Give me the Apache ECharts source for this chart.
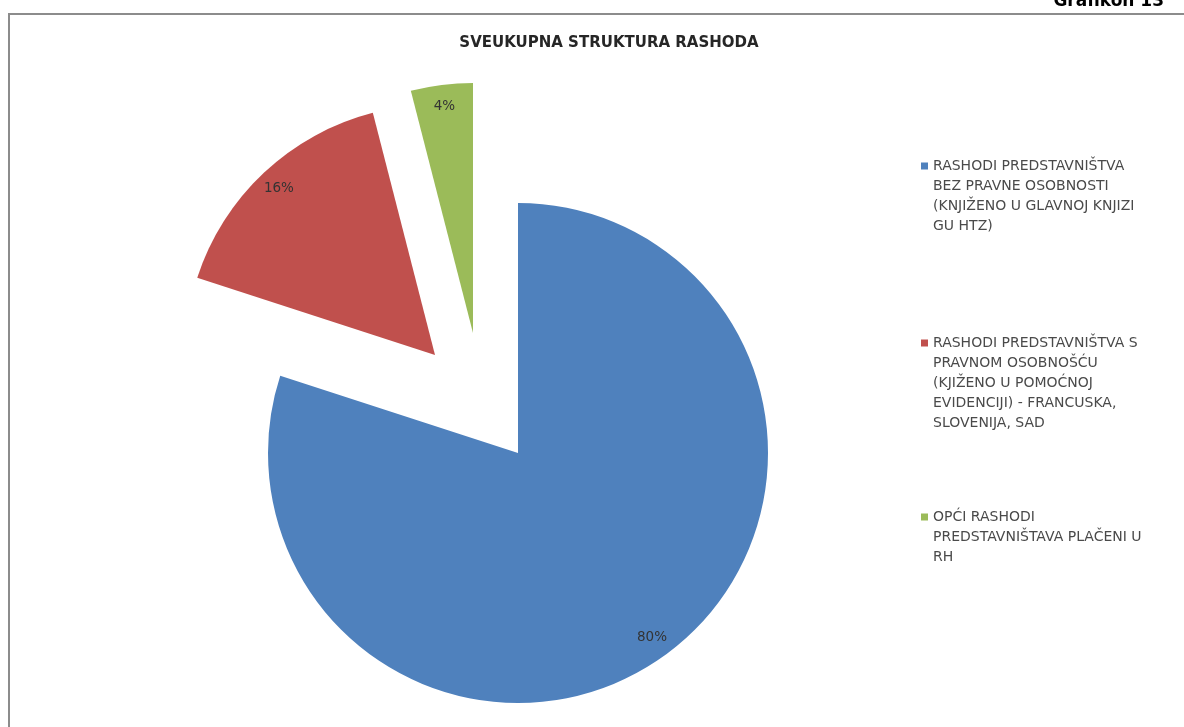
<!DOCTYPE html>
<html>
<head>
<meta charset="utf-8">
<script src="https://cdn.jsdelivr.net/npm/echarts@6/dist/echarts.min.js"></script>
<style>
  html, body { margin: 0; padding: 0; background: #ffffff; }
  #chart { width: 1184px; height: 727px; }
</style>
</head>
<body>
<div id="chart"></div>
<script>
// Expense categories, each kept as the lines shown in the legend
const categoryLines = [
  ['RASHODI PREDSTAVNIŠTVA', 'BEZ PRAVNE OSOBNOSTI', '(KNJIŽENO U GLAVNOJ KNJIZI', 'GU HTZ)'],
  ['RASHODI PREDSTAVNIŠTVA S', 'PRAVNOM OSOBNOŠĆU', '(KJIŽENO U POMOĆNOJ', 'EVIDENCIJI) - FRANCUSKA,', 'SLOVENIJA, SAD'],
  ['OPĆI RASHODI', 'PREDSTAVNIŠTAVA PLAČENI U', 'RH']
];
// Share of total expenses, percent
const shares = [80, 16, 4];

const chartTitle = 'SVEUKUPNA STRUKTURA RASHODA';
const figureLabel = 'Grafikon 13';

const categories = categoryLines.map(l => l.join(' '));
const colors = ['#4f81bd', '#c0504d', '#9bbb59'];

// Layout: each slice is pulled out of the pie on its own centre
const R = 250;
const sliceCenters = [[518, 453], [435, 355], [473, 333]];
const legendIconY = [166, 343, 517];
const LINE_H = 20;
const FONT = '"DejaVu Sans", "Noto Sans", sans-serif';

const series = [];
categories.forEach((name, i) => {
  // the slice itself
  series.push({
    type: 'pie',
    center: sliceCenters[i],
    radius: [0, R],
    startAngle: 90,
    clockwise: true,
    silent: true,
    avoidLabelOverlap: false,
    label: { show: false },
    labelLine: { show: false },
    data: categories.map((n, j) => ({
      name: n,
      value: shares[j],
      itemStyle: { color: j === i ? colors[j] : 'rgba(0,0,0,0)' }
    }))
  });
  // value label sitting at 90% of the radius
  series.push({
    type: 'pie',
    center: sliceCenters[i],
    radius: [R * 0.8, R],
    startAngle: 90,
    clockwise: true,
    silent: true,
    avoidLabelOverlap: false,
    labelLine: { show: false },
    data: categories.map((n, j) => ({
      name: n,
      value: shares[j],
      itemStyle: { color: 'rgba(0,0,0,0)' },
      label: {
        show: j === i,
        position: 'inside',
        formatter: '{c}%',
        color: '#333333',
        fontSize: 13.5,
        fontFamily: FONT
      }
    }))
  });
});

// one legend block per category so each can sit at its own height;
// a spacer line above the text keeps the marker level with the first line
const legends = categories.map((name, i) => {
  const n = categoryLines[i].length;
  const h = n * LINE_H;
  const pad = h - LINE_H;
  return {
    data: [{ name: name, itemStyle: { color: colors[i] } }],
    orient: 'vertical',
    left: 921,
    top: legendIconY[i] - (h + pad) / 2,
    padding: 0,
    icon: 'rect',
    itemWidth: 7,
    itemHeight: 7,
    selectedMode: false,
    formatter: () => '{s| }\n' + categoryLines[i].map(l => '{t|' + l + '}').join('\n'),
    textStyle: {
      color: '#4a4a4a',
      fontSize: 14,
      fontFamily: FONT,
      rich: {
        s: { height: pad, lineHeight: pad, fontSize: 1 },
        t: { color: '#4a4a4a', fontSize: 14, fontFamily: FONT, lineHeight: LINE_H, height: LINE_H }
      }
    }
  };
});

const chart = echarts.init(document.getElementById('chart'));
chart.setOption({
  backgroundColor: '#ffffff',
  animation: false,
  title: [
    {
      text: chartTitle,
      left: 604,
      top: 31,
      textAlign: 'center',
      textStyle: { fontSize: 15, fontWeight: 'bold', color: '#262626', fontFamily: FONT }
    },
    {
      text: figureLabel,
      right: 20,
      top: -7,
      padding: 0,
      textStyle: { fontSize: 17, fontWeight: 'bold', color: '#000000', fontFamily: FONT }
    }
  ],
  legend: legends,
  graphic: [
    {
      type: 'rect',
      silent: true,
      shape: { x: 9, y: 14, width: 1200, height: 740 },
      style: { fill: 'none', stroke: '#8c8c8c', lineWidth: 2 }
    }
  ],
  series: series
});
</script>
</body>
</html>
